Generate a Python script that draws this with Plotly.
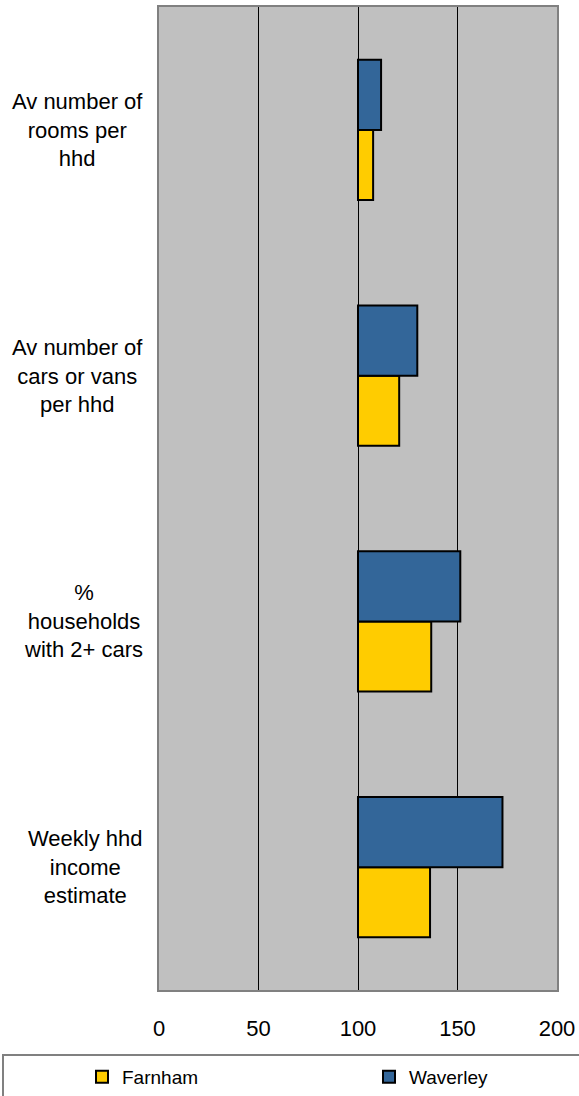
import plotly.graph_objects as go

categories = ["Av number of<br>rooms per<br>hhd",
              "Av number of<br>cars or vans<br>per hhd",
              "%<br>households<br>with 2+ cars",
              "Weekly hhd<br>income<br>estimate"]
farnham = [107.6, 120.7, 136.8, 136.2]
waverley = [111.6, 129.8, 151.4, 172.6]
x_ticks = [0, 50, 100, 150, 200]
base_value = 100

FONT = "Liberation Sans, Arial, sans-serif"

fig = go.Figure()
fig.add_trace(go.Bar(
    y=categories, x=[v - base_value for v in farnham], base=[base_value] * len(farnham),
    orientation="h", name="Farnham",
    marker=dict(color="#FFCC00", line=dict(color="#000000", width=2)),
    legend="legend",
))
fig.add_trace(go.Bar(
    y=categories, x=[v - base_value for v in waverley], base=[base_value] * len(waverley),
    orientation="h", name="Waverley",
    marker=dict(color="#336699", line=dict(color="#000000", width=2)),
    legend="legend2",
))

for c in categories:
    fig.add_annotation(x=0, xref="paper", xanchor="right", xshift=-14,
                       y=c, yref="y", text=c, showarrow=False, align="center",
                       font=dict(family=FONT, size=22, color="#000000"))

PW = 398.0  # plot width px
PH = 983.0  # plot height px
def px_x(p):
    return (p - 159) / PW
def px_y(p):
    return -(p - 990) / PH

fig.update_layout(
    width=579, height=1096,
    margin=dict(l=159, r=22, t=7, b=106, autoexpand=False),
    paper_bgcolor="#FFFFFF", plot_bgcolor="#C0C0C0",
    barmode="group", bargap=0.43, bargroupgap=0,
    font=dict(family=FONT, size=22, color="#000000"),
    showlegend=True,
    legend=dict(orientation="h", x=px_x(82), y=px_y(1077), xanchor="left", yanchor="middle",
                bgcolor="rgba(0,0,0,0)", font=dict(size=19), itemwidth=30),
    legend2=dict(orientation="h", x=px_x(369), y=px_y(1077), xanchor="left", yanchor="middle",
                 bgcolor="rgba(0,0,0,0)", font=dict(size=19), itemwidth=30),
)
fig.update_xaxes(range=[0, 200], tickvals=x_ticks, ticktext=[str(t) for t in x_ticks],
                 showgrid=True, gridcolor="#000000", gridwidth=1, zeroline=False,
                 showline=True, linecolor="#808080", linewidth=2, mirror=True,
                 ticks="", ticklabelstandoff=18, tickfont=dict(size=22), automargin=False)
fig.update_yaxes(categoryorder="array", categoryarray=categories[::-1],
                 showticklabels=False, showgrid=False, zeroline=False, automargin=False,
                 showline=True, linecolor="#808080", linewidth=2, mirror=True, ticks="")

fig.add_shape(type="rect", xref="paper", yref="paper",
              x0=px_x(3), x1=px_x(600), y0=px_y(1055), y1=px_y(1110),
              line=dict(color="#808080", width=2), fillcolor="rgba(0,0,0,0)")

fig.write_html("out.html", config={"displayModeBar": False},
               post_script="document.body.style.margin='0';document.body.style.overflow='hidden';")
